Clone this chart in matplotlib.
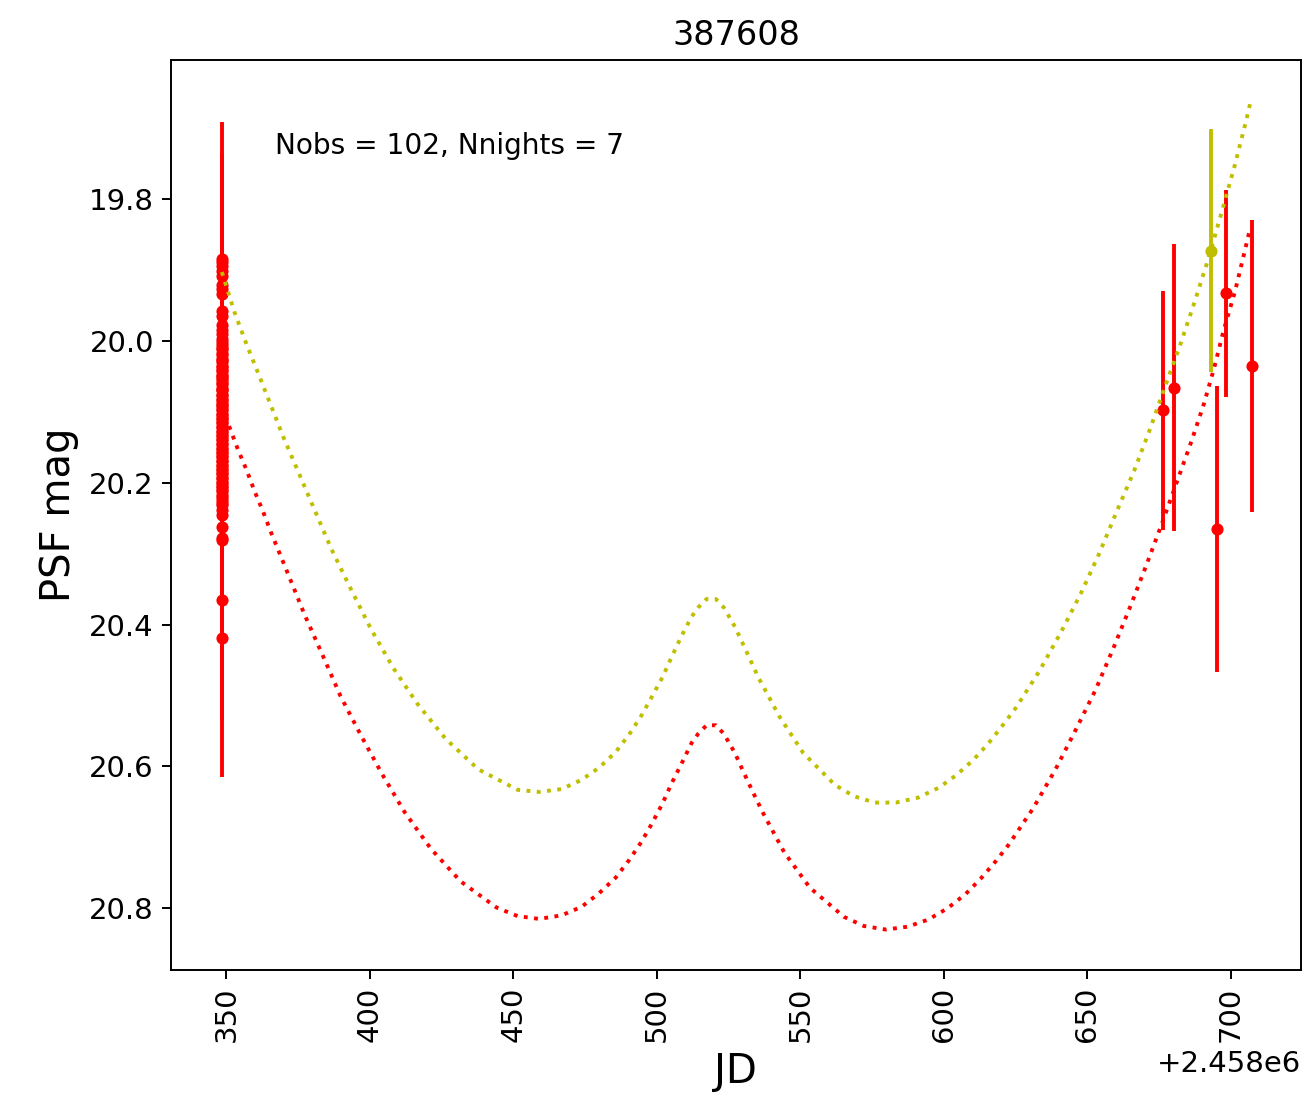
import matplotlib
matplotlib.use("Agg")
import matplotlib.pyplot as plt
import numpy as np

# Light curve of object 387608: PSF magnitudes per observation, with model curves
JD0 = 2458000.0

# Night 1: many exposures at one epoch (r band)
night1_day = 348.4
night1_mag = [
    19.884, 19.889, 19.895, 19.902, 19.908, 19.921, 19.927, 19.934, 19.958, 19.965,
    19.978, 19.985, 19.990, 19.997, 20.001, 20.006, 20.010, 20.012, 20.017, 20.020,
    20.025, 20.027, 20.030, 20.035, 20.037, 20.041, 20.042, 20.048, 20.050, 20.053,
    20.055, 20.060, 20.061, 20.066, 20.069, 20.070, 20.076, 20.077, 20.082, 20.083,
    20.087, 20.090, 20.092, 20.096, 20.098, 20.103, 20.104, 20.109, 20.110, 20.115,
    20.116, 20.121, 20.122, 20.127, 20.128, 20.133, 20.134, 20.139, 20.140, 20.145,
    20.146, 20.151, 20.152, 20.157, 20.158, 20.163, 20.164, 20.169, 20.170, 20.175,
    20.176, 20.181, 20.182, 20.187, 20.188, 20.193, 20.194, 20.199, 20.200, 20.205,
    20.206, 20.211, 20.212, 20.217, 20.220, 20.224, 20.229, 20.231,
    20.238, 20.245, 20.262, 20.278, 20.281, 20.365, 20.419,
]
night1_err = [
    0.193, 0.150, 0.160, 0.140, 0.170, 0.130, 0.150, 0.120, 0.140, 0.130,
    0.120, 0.140, 0.110, 0.150, 0.130, 0.120, 0.160, 0.110, 0.140, 0.130,
    0.120, 0.150, 0.110, 0.130, 0.140, 0.120, 0.160, 0.110, 0.130, 0.150,
    0.120, 0.140, 0.110, 0.130, 0.150, 0.120, 0.140, 0.110, 0.160, 0.130,
    0.120, 0.140, 0.110, 0.150, 0.130, 0.120, 0.140, 0.110, 0.130, 0.150,
    0.120, 0.140, 0.110, 0.130, 0.160, 0.120, 0.140, 0.110, 0.130, 0.150,
    0.120, 0.140, 0.110, 0.130, 0.150, 0.120, 0.140, 0.110, 0.130, 0.150,
    0.120, 0.140, 0.110, 0.130, 0.150, 0.120, 0.140, 0.110, 0.130, 0.150,
    0.120, 0.140, 0.110, 0.130, 0.150, 0.120, 0.140, 0.130,
    0.140, 0.150, 0.160, 0.170, 0.150, 0.170, 0.196,
]

# Later nights, r band
r_day = [676.2, 680.1, 695.0, 698.2, 707.3]
r_mag = [20.098, 20.066, 20.265, 19.933, 20.036]
r_err = [0.168, 0.202, 0.202, 0.146, 0.206]

# Later night, other band
y_day = [692.9]
y_mag = [19.873]
y_err = [0.171]

# Model light curve for the yellow band
model_y_day = [
    348.43, 352.86, 357.04, 361.32, 365.61, 369.79, 374.46, 380.49, 386.66, 393.38,
    400.35, 408.12, 416.62, 426.38, 437.74, 451.46, 458.99, 466.79, 473.76, 479.79,
    485.61, 490.35, 494.67, 498.36, 501.99, 505.12, 508.61, 512.09, 514.39, 517.32,
    520.56, 523.34, 527.18, 530.31, 535.30, 542.61, 550.98, 562.02, 568.64, 575.96,
    583.28, 591.04, 598.26, 604.43, 610.21, 615.44, 620.31, 624.98, 633.21, 640.77,
    647.74, 654.11, 660.17, 666.31, 671.78, 677.00, 682.23, 687.21, 692.09, 697.11,
    701.39, 705.23, 706.86,
]
model_y_mag = [
    19.903, 19.960, 20.005, 20.048, 20.092, 20.135, 20.179, 20.236, 20.294, 20.350,
    20.406, 20.461, 20.512, 20.561, 20.604, 20.633, 20.636, 20.632, 20.619, 20.602,
    20.580, 20.555, 20.528, 20.501, 20.474, 20.446, 20.416, 20.389, 20.376, 20.364,
    20.364, 20.376, 20.403, 20.430, 20.474, 20.529, 20.581, 20.626, 20.642, 20.651,
    20.651, 20.644, 20.630, 20.612, 20.591, 20.568, 20.543, 20.518, 20.466, 20.411,
    20.356, 20.300, 20.241, 20.183, 20.125, 20.065, 20.007, 19.947, 19.885, 19.814,
    19.752, 19.691, 19.663,
]

# Model light curve for the red band
model_r_day = [
    348.43, 351.22, 354.11, 357.04, 359.93, 362.82, 365.75, 371.53, 377.35, 383.52,
    389.79, 396.86, 404.29, 412.20, 421.25, 431.60, 444.15, 451.46, 458.99, 466.79,
    473.76, 479.79, 485.61, 490.35, 494.67, 498.36, 501.99, 505.12, 508.61, 512.09,
    514.39, 517.32, 520.56, 523.34, 527.18, 530.31, 533.55, 537.04, 544.36, 553.31,
    565.16, 572.13, 579.79, 587.35, 594.53, 601.29, 607.56, 612.89, 618.01, 622.65,
    631.11, 638.92, 645.99, 652.86, 658.99, 664.81, 670.38, 675.85, 681.08, 686.31,
    690.59, 694.18, 697.56, 701.39, 704.08, 706.62,
]
model_r_mag = [
    20.093, 20.123, 20.154, 20.182, 20.213, 20.241, 20.272, 20.329, 20.387, 20.443,
    20.501, 20.556, 20.611, 20.665, 20.716, 20.762, 20.799, 20.811, 20.815, 20.810,
    20.798, 20.779, 20.757, 20.732, 20.706, 20.680, 20.652, 20.624, 20.596, 20.567,
    20.554, 20.542, 20.542, 20.554, 20.581, 20.609, 20.637, 20.666, 20.721, 20.771,
    20.812, 20.825, 20.830, 20.826, 20.816, 20.800, 20.780, 20.758, 20.734, 20.710,
    20.659, 20.604, 20.548, 20.492, 20.434, 20.376, 20.318, 20.259, 20.200, 20.141,
    20.089, 20.038, 19.984, 19.931, 19.886, 19.843,
]

y_ticks = [19.8, 20.0, 20.2, 20.4, 20.6, 20.8]
x_ticks = [350, 400, 450, 500, 550, 600, 650, 700]

DPI = 175
fig = plt.figure(figsize=(1303 / DPI, 1100 / DPI), dpi=DPI)
ax = fig.add_axes([0.1312, 0.1182, 0.8672, 0.8273])

n1_jd = JD0 + np.full(len(night1_mag), night1_day)
ax.errorbar(n1_jd, night1_mag, yerr=night1_err, fmt='o', color='r',
            ms=5, mew=0, lw=1.6, zorder=2)
ax.errorbar(JD0 + np.asarray(r_day), r_mag, yerr=r_err, fmt='o', color='r',
            ms=5, mew=0, lw=1.6, zorder=2)
ax.errorbar(JD0 + np.asarray(y_day), y_mag, yerr=y_err, fmt='o', color='y',
            ms=5, mew=0, lw=1.6, zorder=2)

ax.plot(JD0 + np.asarray(model_y_day), model_y_mag, ':', color='y', lw=1.6, zorder=3)
ax.plot(JD0 + np.asarray(model_r_day), model_r_mag, ':', color='r', lw=1.6, zorder=3)

ax.set_xlim(JD0 + 330.7, JD0 + 724.4)
ax.set_ylim(20.887, 19.604)
ax.set_xticks(JD0 + np.asarray(x_ticks, dtype=float))
ax.set_yticks(y_ticks)
ax.tick_params(axis='both', labelsize=12)
ax.tick_params(axis='x', labelrotation=90)
ax.xaxis.get_offset_text().set_fontsize(12)

ax.text(0.092, 0.905, "Nobs = 102, Nnights = 7", transform=ax.transAxes,
        fontsize=11.5, va='center', ha='left')
ax.set_title("387608", fontsize=13.8)
ax.set_xlabel("JD", fontsize=16.5)
ax.set_ylabel("PSF mag", fontsize=16.5)

fig.savefig("out.png", dpi=DPI)
